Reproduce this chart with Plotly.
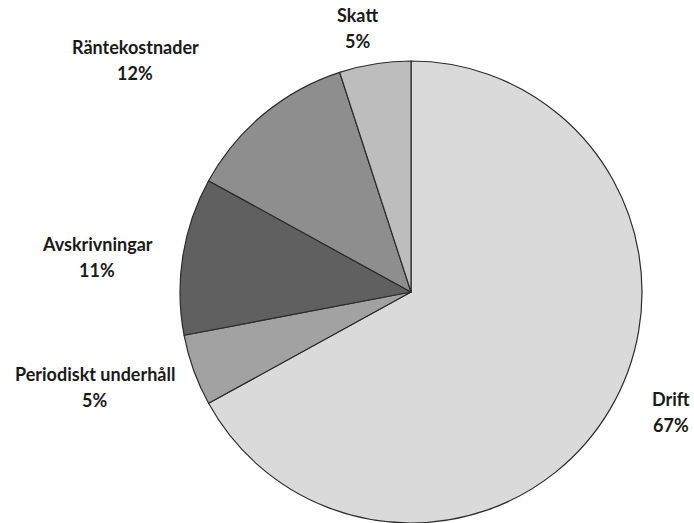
import plotly.graph_objects as go

# Cost breakdown
labels = ["Drift", "Periodiskt underhåll", "Avskrivningar", "Räntekostnader", "Skatt"]
values = [67, 5, 11, 12, 5]
colors = ["#dadada", "#a2a2a2", "#606060", "#8e8e8e", "#bdbdbd"]

# Caption anchor points (pixels from top-left) for each slice: name line, then percent line
label_x = [671, 95, 97, 135, 357]
label_y = [399, 374, 244, 47, 15]
line_gap = 26

W, H = 694, 523
cx, cy, r = 411, 292, 231

fig = go.Figure(
    go.Pie(
        labels=labels,
        values=values,
        sort=False,
        direction="clockwise",
        rotation=0,
        textinfo="none",
        hoverinfo="label+percent",
        marker=dict(colors=colors, line=dict(color="#2b2b2b", width=1.2)),
        domain=dict(
            x=[(cx - r) / W, (cx + r) / W],
            y=[(H - (cy + r)) / H, (H - (cy - r)) / H],
        ),
        showlegend=False,
    )
)

font = dict(family="Lato", size=18, color="#1a1a1a", weight="bold")
total = sum(values)
for lab, v, x, y in zip(labels, values, label_x, label_y):
    for txt, yy in ((lab, y), (f"{round(100 * v / total)}%", y + line_gap)):
        fig.add_annotation(
            x=x / W,
            y=1 - yy / H,
            xref="paper",
            yref="paper",
            xanchor="center",
            yanchor="middle",
            text=txt,
            showarrow=False,
            align="center",
            font=font,
        )

fig.update_layout(
    width=W,
    height=H,
    margin=dict(l=0, r=0, t=0, b=0),
    paper_bgcolor="white",
    plot_bgcolor="white",
)

fig.write_html("out.html")
